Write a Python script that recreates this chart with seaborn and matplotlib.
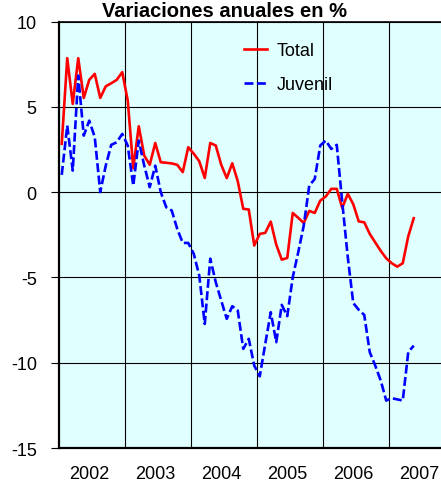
import matplotlib
matplotlib.use("Agg")
import matplotlib.pyplot as plt
import pandas as pd
import seaborn as sns

# Monthly year-on-year change (%), Jan 2002 - May 2007
years = ["2002", "2003", "2004", "2005", "2006", "2007"]
total = [2.83, 7.85, 5.17, 7.85, 5.52, 6.58, 6.93, 5.52, 6.2, 6.38, 6.58, 7.03,
         5.36, 1.4, 3.86, 2.14, 1.6, 2.88, 1.75, 1.72, 1.68, 1.6, 1.17, 2.63,
         2.25, 1.81, 0.83, 2.88, 2.73, 1.6, 0.82, 1.69, 0.64, -0.98, -1.02, -3.13,
         -2.45, -2.39, -1.73, -3.08, -3.96, -3.86, -1.22, -1.51, -1.81, -1.1, -1.22, -0.5,
         -0.26, 0.19, 0.19, -0.93, -0.1, -0.71, -1.72, -1.77, -2.45, -2.95, -3.45, -3.88,
         -4.17, -4.37, -4.17, -2.59, -1.53]
juvenil = [1.01, 3.9, 1.26, 6.83, 3.31, 4.19, 3.22, 0.0, 1.55, 2.77, 2.92, 3.41,
           2.73, 0.38, 3.02, 1.55, 0.29, 1.55, 0.0, -0.89, -1.08, -2.16, -2.98, -2.98,
           -3.62, -4.89, -7.73, -3.9, -5.28, -6.36, -7.43, -6.69, -6.94, -9.19, -8.6, -10.17,
           -10.8, -8.9, -7.04, -8.8, -6.61, -7.27, -4.99, -3.52, -1.96, 0.38, 0.77, 2.73,
           3.02, 2.53, 2.77, -0.6, -3.8, -6.5, -6.9, -7.2, -9.38, -10.17, -11.05, -12.22,
           -12.08, -12.15, -12.22, -9.38, -9.0]
y_ticks = [10, 5, 0, -5, -10, -15]

plt.rcParams["font.family"] = ["Liberation Sans", "DejaVu Sans"]
plt.rcParams["axes.unicode_minus"] = False

df = pd.DataFrame({"mes": list(range(len(total))), "Total": total, "Juvenil": juvenil})

fig = plt.figure(figsize=(4.41, 4.85), dpi=100)
ax = fig.add_axes([59 / 441, 1 - 449 / 485, 396 / 441, 426.5 / 485])
ax.set_facecolor("#E0FFFF")

sns.lineplot(data=df, x="mes", y="Total", color="#FF0000", linewidth=1.9,
             label="Total", ax=ax, zorder=3)
sns.lineplot(data=df, x="mes", y="Juvenil", color="#0000FF", linewidth=1.9,
             linestyle=(0, (3.4, 1.3)), label="Juvenil", ax=ax, zorder=3)

ax.set_xlim(-0.5, 71.5)
ax.set_ylim(-15, 10)

# year boundaries carry the grid, mid-year positions carry the labels
ax.set_xticks([11.5 + 12 * k for k in range(5)])
ax.set_xticklabels([])
ax.set_xticks([5 + 12 * k for k in range(len(years))], minor=True)
ax.set_xticklabels(years, minor=True)
ax.tick_params(axis="x", which="both", length=0, pad=12, labelsize=13)

ax.set_yticks(y_ticks)
ax.set_yticklabels([str(v) for v in y_ticks])
ax.tick_params(axis="y", direction="out", length=6, width=0.8, pad=10, labelsize=13)

ax.grid(True, which="major", color="black", linewidth=0.8)
ax.set_axisbelow(True)
ax.set_xlabel("")
ax.set_ylabel("")

for side in ["left", "bottom"]:
    ax.spines[side].set_linewidth(1.6)
ax.spines["top"].set_linewidth(1.2)
ax.spines["right"].set_visible(False)

ax.legend(loc="upper left", bbox_to_anchor=(237 / 441, 1 - 36 / 485),
          bbox_transform=fig.transFigure, frameon=False, fontsize=13,
          handlelength=1.25, handletextpad=0.55, labelspacing=0.92,
          borderaxespad=0)

fig.text(224 / 441, 1 - 17 / 485, "Variaciones anuales en %", ha="center",
         va="baseline", fontsize=14.5, fontweight="bold")

fig.savefig("out.png", dpi=100)
